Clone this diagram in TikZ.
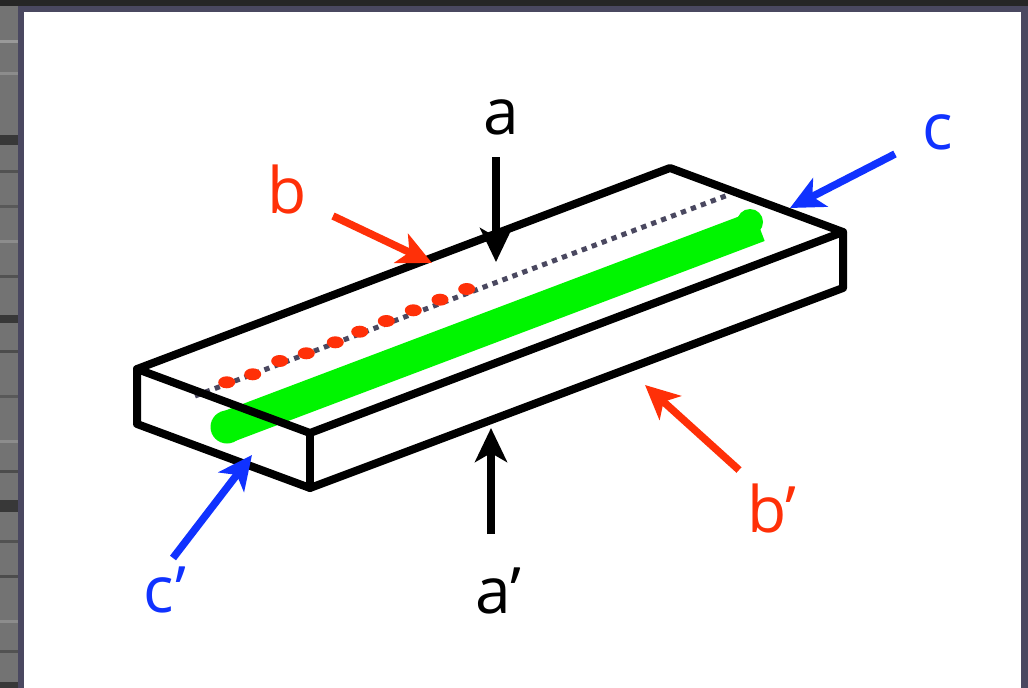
\documentclass[tikz,border=0pt]{standalone}
\usepackage{fontspec}
\setmainfont{Open Sans}
\usetikzlibrary{arrows.meta, positioning}
\definecolor{slabRojo}{RGB}{255, 48, 8}
\definecolor{slabAzul}{RGB}{16, 50, 255}
\definecolor{slabVerde}{RGB}{0, 245, 0}
\definecolor{slabMarco}{RGB}{74, 72, 96}
\tikzset{
    slabline/.style={line width=8pt, line join=round, line cap=round},
    viewarrow/.style={line width=7.5pt, -{Stealth[length=34pt, width=32pt, inset=9pt]}},
    viewlabel/.style={font=\fontsize{64}{64}\selectfont, inner sep=0pt}
}

\begin{document}
\begin{tikzpicture}[x=1pt, y=-1pt]
            \useasboundingbox (0,0) rectangle (1028,688);
            % backdrop and frame
            \fill[black!55] (0,0) rectangle (1028,688);
            \foreach \yb/\gb in {40/40, 72/45, 170/68, 205/65, 240/45, 275/68, 350/70, 395/65, 440/45, 470/70, 540/68, 575/70, 620/45, 650/68} {
                \fill[black!\gb] (0,\yb) rectangle (18,\yb+3);
            }
            \foreach \yb/\hb in {135/10, 315/8, 500/12, 682/6} {
                \fill[black!78] (0,\yb) rectangle (18,\yb+\hb);
            }
            \fill[black!85] (0,0) rectangle (1028,6);
            \fill[slabMarco] (18,6) rectangle (1028,688);
            \fill[white] (23.5,12) rectangle (1021,688);

            % corners of the slab
            \coordinate (topL) at (137,369);
            \coordinate (topB) at (670,168);
            \coordinate (topR) at (843,232);
            \coordinate (topF) at (310,433);
            \coordinate (botL) at (137,424);
            \coordinate (botF) at (310,488);
            \coordinate (botR) at (843,288);

            % green stripe
            \coordinate (stripeL) at (227,427);
            \coordinate (stripeR) at (759,226);
            \fill[slabVerde] (stripeL) circle (16.5);
            \draw[slabVerde, line width=32pt] (stripeL) -- (stripeR);
            \fill[slabVerde] (750,222) circle (13);

            % dotted line with red dots
            \coordinate (seamL) at (195,396);
            \coordinate (seamR) at (728,195);
            \draw[slabMarco, line width=5pt, dash pattern=on 5.3pt off 5.3pt] (seamL) -- (seamR);
            \foreach \xd/\yd in {226.7/382.3, 252.7/374.3, 279.7/361, 306.3/353.3, 335.3/342.3, 359.7/331.7, 386.3/321, 413.3/310.3, 440/299.7, 466.7/289} {
                \fill[slabRojo] (\xd,\yd) ellipse (8.5 and 6);
            }

            % slab outline
            \draw[slabline] (topL) -- (topB) -- (topR) -- (topF) -- cycle;
            \draw[slabline] (topL) -- (botL) -- (botF) -- (botR) -- (topR);
            \draw[slabline] (topF) -- (botF);

            % labels
            \node[viewlabel, text=black] (labelA) at (501,117) {a};
            \node[viewlabel, text=slabRojo] (labelB) at (287,189) {b};
            \node[viewlabel, text=slabAzul] (labelC) at (938,132) {c};
            \node[viewlabel, text=black] (labelAp) at (498,591) {a’};
            \node[viewlabel, text=slabRojo] (labelBp) at (772,508) {b’};
            \node[viewlabel, text=slabAzul] (labelCp) at (165,590) {c’};

            % arrows
            \coordinate (tailA) at (496,157);   \coordinate (headA) at (496,262);
            \coordinate (tailAp) at (491,534);  \coordinate (headAp) at (491,428);
            \coordinate (tailB) at (333,216);   \coordinate (headB) at (432,263);
            \coordinate (tailBp) at (739,470);  \coordinate (headBp) at (645,385);
            \coordinate (tailC) at (895,154);   \coordinate (headC) at (790,208);
            \coordinate (tailCp) at (173,558);  \coordinate (headCp) at (252,455);
            \draw[viewarrow, black] (tailA) -- (headA);
            \draw[viewarrow, black] (tailAp) -- (headAp);
            \draw[viewarrow, slabRojo] (tailB) -- (headB);
            \draw[viewarrow, slabRojo] (tailBp) -- (headBp);
            \draw[viewarrow, slabAzul] (tailC) -- (headC);
            \draw[viewarrow, slabAzul] (tailCp) -- (headCp);
        \end{tikzpicture}
\end{document}
